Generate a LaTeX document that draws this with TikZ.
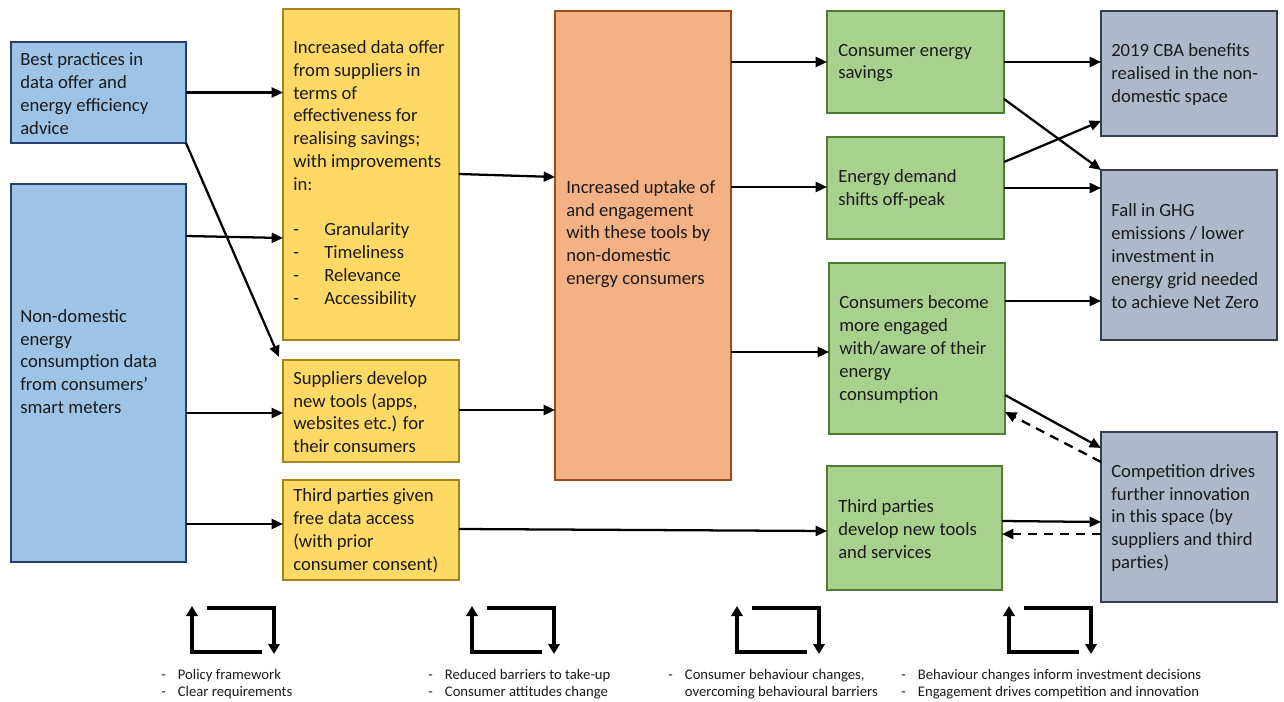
\documentclass[tikz,border=0pt]{standalone}
\usepackage{fontspec}
\setmainfont{Carlito}
\usetikzlibrary{calc,arrows.meta}
\definecolor{blueF}{HTML}{9DC3E6}
\definecolor{blueD}{HTML}{24406E}
\definecolor{yelF}{HTML}{FFD966}
\definecolor{yelD}{HTML}{A6841C}
\definecolor{orF}{HTML}{F4B183}
\definecolor{orD}{HTML}{9E4A1A}
\definecolor{grF}{HTML}{A9D18E}
\definecolor{grD}{HTML}{4E7D30}
\definecolor{gyF}{HTML}{ADB9CA}
\definecolor{gyD}{HTML}{333F50}
\definecolor{txtC}{HTML}{1A1A1A}
\newcommand{\li}[1]{\makebox[23.25pt][l]{-}#1}
\newcommand{\bl}[1]{\makebox[12.5pt][l]{-}#1}
\begin{document}
\begin{tikzpicture}[x=0.75pt,y=-0.75pt,
  box/.style={draw, line width=1.2pt, anchor=north west, inner sep=0pt, outer sep=0pt},
  bluebox/.style={box, fill=blueF, draw=blueD},
  yelbox/.style={box, fill=yelF, draw=yelD},
  orbox/.style={box, fill=orF, draw=orD},
  grbox/.style={box, fill=grF, draw=grD},
  gybox/.style={box, fill=gyF, draw=gyD},
  txt/.style={anchor=west, align=left, inner sep=0pt, text=txtC, font=\fontsize{14}{17.1}\selectfont},
  btxt/.style={anchor=north west, align=left, inner sep=0pt, text=txtC, font=\fontsize{11}{12.75}\selectfont},
  arr/.style={line width=1.7pt, -{Triangle[length=8.5pt,width=7.5pt]}},
  darr/.style={arr, dash pattern=on 7pt off 5pt},
  loopl/.style={line width=2.7pt, line join=miter, -{Triangle[length=7.5pt,width=8.5pt]}}
]
\useasboundingbox (0,0) rectangle (1284,702);

% boxes
\node[bluebox, minimum width=131.25pt, minimum height=75.75pt] (b1) at (11,42) {};
\node[bluebox, minimum width=131.25pt, minimum height=283.5pt] (b2) at (11,184) {};
\node[yelbox, minimum width=132pt, minimum height=248.25pt] (y1) at (283,9) {};
\node[yelbox, minimum width=132pt, minimum height=76.5pt] (y2) at (283,360) {};
\node[yelbox, minimum width=132pt, minimum height=75pt] (y3) at (283,480) {};
\node[orbox, minimum width=132pt, minimum height=351.75pt] (or) at (555,11) {};
\node[grbox, minimum width=132.75pt, minimum height=76.5pt] (g1) at (827,11) {};
\node[grbox, minimum width=132.75pt, minimum height=76.5pt] (g2) at (827,137) {};
\node[grbox, minimum width=132pt, minimum height=128.25pt] (g3) at (829,263) {};
\node[grbox, minimum width=131.25pt, minimum height=93pt] (g4) at (827,466) {};
\node[gybox, minimum width=132pt, minimum height=93.75pt] (r1) at (1101,11) {};
\node[gybox, minimum width=132pt, minimum height=127.5pt] (r2) at (1101,170) {};
\node[gybox, minimum width=132pt, minimum height=127.5pt] (r3) at (1101,432) {};

% texts
\node[txt] (b1t) at ($(b1.west)+(9,1)$) {Best practices in\\data offer and\\energy efficiency\\advice};
\node[txt] (b2t) at ($(b2.north west)+(9,177.5)$) {Non-domestic\\energy\\consumption data\\from consumers’\\smart meters};
\node[txt] (y1t) at ($(y1.north west)+(10,165)$) {Increased data offer\\from suppliers in\\terms of\\effectiveness for\\realising savings;\\with improvements\\in:\\[17.1pt]\li{Granularity}\\\li{Timeliness}\\\li{Relevance}\\\li{Accessibility}};
\node[txt] (y2t) at ($(y2.west)+(10,1)$) {Suppliers develop\\new tools (apps,\\websites etc.) for\\their consumers};
\node[txt] (y3t) at ($(y3.west)+(10,1)$) {Third parties given\\free data access\\(with prior\\consumer consent)};
\node[txt] (ort) at ($(or.north west)+(11,223)$) {Increased uptake of\\and engagement\\with these tools by\\non-domestic\\energy consumers};
\node[txt] (g1t) at ($(g1.west)+(11,1)$) {Consumer energy\\savings};
\node[txt] (g2t) at ($(g2.west)+(11,1)$) {Energy demand\\shifts off-peak};
\node[txt] (g3t) at ($(g3.west)+(10,1)$) {Consumers become\\more engaged\\with/aware of their\\energy\\consumption};
\node[txt] (g4t) at ($(g4.west)+(11,1)$) {Third parties\\develop new tools\\and services};
\node[txt] (r1t) at ($(r1.west)+(10,1)$) {2019 CBA benefits\\realised in the non-\\domestic space};
\node[txt] (r2t) at ($(r2.west)+(10,1)$) {Fall in GHG\\emissions / lower\\investment in\\energy grid needed\\to achieve Net Zero};
\node[txt] (r3t) at ($(r3.west)+(10,1)$) {Competition drives\\further innovation\\in this space (by\\suppliers and third\\parties)};

% connectors
\draw[arr] (b1.east) -- (b1.east -| y1.west);
\draw[arr] (b1.south east) -- ($(y2.north west)+(-4,-3)$);
\draw[arr] ($(b2.north east)+(0,52)$) -- ($(y1.north west)+(0,229)$);
\draw[arr] ($(b2.north east)+(0,229)$) -- ($(y2.north west)+(0,53)$);
\draw[arr] ($(b2.north east)+(0,340)$) -- ($(y3.north west)+(0,44)$);
\draw[arr] ($(y1.north east)+(0,165)$) -- ($(or.north west)+(0,166)$);
\draw[arr] ($(y2.north east)+(0,50)$) -- ($(or.north west)+(0,399)$);
\draw[arr] ($(y3.north east)+(0,49)$) -- ($(g4.north west)+(0,65)$);
\draw[arr] ($(or.north east)+(0,51)$) -- ($(g1.north west)+(0,51)$);
\draw[arr] ($(or.north east)+(0,176)$) -- ($(g2.north west)+(0,50)$);
\draw[arr] ($(or.north east)+(0,341)$) -- ($(g3.north west)+(0,89)$);
\draw[arr] ($(g1.north east)+(0,51)$) -- ($(r1.north west)+(0,51)$);
\draw[arr] ($(g1.north east)+(0,88)$) -- (r2.north west);
\draw[arr] ($(g2.north east)+(0,25)$) -- ($(r1.north west)+(0,110)$);
\draw[arr] ($(g2.north east)+(0,51)$) -- ($(r2.north west)+(0,18)$);
\draw[arr] ($(g3.north east)+(0,38)$) -- ($(r2.north west)+(0,131)$);
\draw[arr] ($(g3.north east)+(0,132)$) -- ($(r3.north west)+(0,16)$);
\draw[darr] ($(r3.north west)+(0,30)$) -- ($(g3.north east)+(0,149)$);
\draw[arr] ($(g4.north east)+(0,55)$) -- ($(r3.north west)+(0,90)$);
\draw[darr] ($(r3.north west)+(0,102)$) -- ($(g4.north east)+(0,68)$);

% cycle icons
\foreach \x in {192,472,737,1009}{
  \draw[loopl] (\x+70,652) -- (\x,652) -- (\x,606);
  \draw[loopl] (\x+15,608) -- (\x+82,608) -- (\x+82,654);
}

% bottom notes
\node[btxt] (n1) at (161,669) {\bl{Policy framework}\\\bl{Clear requirements}};
\node[btxt] (n2) at (428,669) {\bl{Reduced barriers to take-up}\\\bl{Consumer attitudes change}};
\node[btxt] (n3) at (668,669) {\bl{Consumer behaviour changes,}\\\makebox[12.5pt][l]{}overcoming behavioural barriers};
\node[btxt] (n4) at (901,669) {\bl{Behaviour changes inform investment decisions}\\\bl{Engagement drives competition and innovation}};
\end{tikzpicture}
\end{document}
